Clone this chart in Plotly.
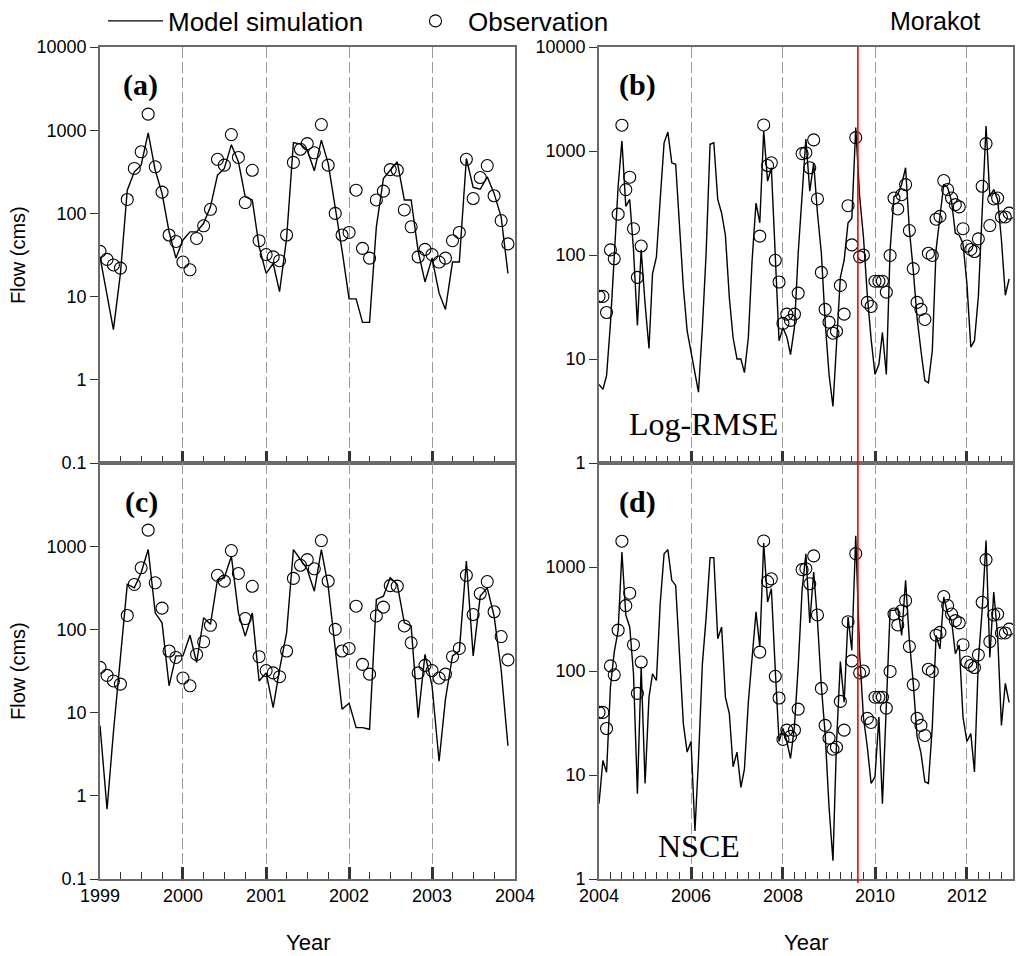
import pandas as pd
import plotly.graph_objs as go

# monthly flow (cms)
months_left = pd.date_range("1999-01-01", periods=60, freq="MS")
months_right = pd.date_range("2004-01-01", periods=108, freq="MS")

obs_left = [35, 28, 24, 22, 147, 347, 550, 1560, 363, 180, 55, 46,
            26, 21, 50, 71, 112, 447, 380, 887, 470, 135, 330, 47,
            32, 30, 27, 55, 410, 590, 690, 535, 1170, 380, 100, 55,
            59, 190, 38, 29, 145, 185, 336, 331, 110, 69, 30, 37,
            32, 26, 29, 47, 59, 447, 151, 270, 376, 163, 82, 43]

sim_a = [30, 11, 4, 19, 190, 316, 380, 930, 330, 174, 60, 29,
         48, 60, 60, 76, 120, 288, 347, 670, 417, 158, 145, 40,
         19, 25, 11.5, 50, 708, 680, 575, 325, 760, 400, 120, 36,
         9.4, 9.4, 4.9, 4.9, 69, 263, 330, 417, 145, 145, 35, 15,
         29, 11, 7, 26, 26, 457, 205, 195, 275, 174, 91, 19]

sim_c = [7, 0.69, 5.8, 44, 347, 316, 479, 912, 158, 120, 21, 48,
         48, 85, 40, 138, 115, 398, 417, 759, 158, 83, 158, 24,
         30, 11.5, 33, 91, 912, 692, 525, 288, 912, 331, 58, 11,
         13, 6.6, 6.6, 6.3, 229, 251, 417, 347, 120, 110, 8.7, 50,
         21, 2.6, 14.5, 48, 55, 661, 48, 251, 316, 145, 33, 4]

obs_right = ([40, 40, 28, 112, 92, 247, 1770, 425, 560, 179, 61, 122]
             + [None] * 30
             + [152, 1780, 725, 770, 89, 55]
             + [22, 27, 23.5, 27, 43, 943, 963, 690, 1278, 346, 68, 30,
                22.6, 17.7, 18.5, 51, 27, 298, 125, 1345, 96, 100, 35, 32,
                56, 56, 56, 44, 99, 353, 277, 380, 475, 172, 74, 35,
                30, 24, 104, 99, 221, 235, 520, 426, 353, 305, 290, 179,
                122, 113, 108, 143, 458, 1178, 192, 346, 353, 232, 232, 253])

sim_b = [5.7, 5.1, 6.9, 22, 96, 458, 1250, 293, 342, 112, 21, 112,
         34, 12.6, 66, 96, 342, 1200, 1520, 770, 745, 218, 49, 18.6,
         12, 7.7, 4.8, 20, 105, 1160, 1200, 342, 252, 155, 39, 16,
         10, 10, 7.4, 16, 89, 316, 204, 1560, 513, 690, 89, 15,
         20, 16.3, 11, 20, 104, 340, 1300, 410, 770, 252, 104, 23,
         7.1, 3.5, 15, 61, 89, 204, 225, 1680, 366, 150, 41, 15.6,
         7.1, 8.9, 18, 7.1, 112, 366, 380, 479, 690, 174, 71, 25,
         12, 6.2, 5.9, 12, 112, 225, 479, 445, 330, 162, 155, 129,
         53, 13, 15, 40, 218, 1740, 366, 426, 340, 141, 41, 59]

sim_d = [5.3, 13.8, 10.6, 71, 152, 245, 1390, 345, 265, 94, 6.6, 110,
         8.3, 56, 94, 81, 443, 1340, 1470, 745, 665, 126, 31, 16.6,
         21, 2.9, 14, 117, 330, 1230, 1230, 204, 265, 56, 39, 12,
         16.6, 7.6, 11.4, 50, 147, 370, 170, 1700, 460, 620, 102, 21,
         28, 21, 14.4, 29, 109, 600, 1340, 290, 895, 306, 71, 25,
         4.9, 1.5, 20, 123, 50, 330, 158, 2000, 147, 36, 18.6, 8.3,
         9.6, 36, 5.3, 45, 383, 383, 400, 220, 745, 197, 76, 23.5,
         16.3, 8.6, 8.3, 29, 220, 163, 515, 355, 306, 147, 178, 36,
         21, 25, 10.7, 127, 383, 1800, 135, 575, 220, 30, 76, 50]

morakot_date = "2009-08-18"

# the page has an 8px body margin, so the figure is drawn from (8, 8)
OFF = 8
W, H = 1024 - OFF, 956 - OFF


def px(x):
    return (x - OFF) / W


def py(y):
    return 1 - (y - OFF) / H


sans = "Liberation Sans, Arial, sans-serif"
serif = "Liberation Serif, Times New Roman, serif"
frame_col = "#6a6a6a"
tick_col = "#333333"


def line_trace(x, y, xa, ya, show):
    return go.Scatter(x=x, y=y, mode="lines", xaxis=xa, yaxis=ya,
                      line=dict(color="black", width=1.4),
                      name="Model simulation", showlegend=show)


def obs_trace(x, y, xa, ya, show):
    return go.Scatter(x=x, y=y, mode="markers", xaxis=xa, yaxis=ya,
                      marker=dict(symbol="circle-open", size=12,
                                  color="black", line=dict(width=1.1)),
                      name="Observation", showlegend=show)


data = [
    line_trace(months_left, sim_a, "x", "y", True),
    obs_trace(months_left, obs_left, "x", "y", True),
    line_trace(months_right, sim_b, "x2", "y2", False),
    obs_trace(months_right, obs_right, "x2", "y2", False),
    line_trace(months_left, sim_c, "x3", "y3", False),
    obs_trace(months_left, obs_left, "x3", "y3", False),
    line_trace(months_right, sim_d, "x4", "y4", False),
    obs_trace(months_right, obs_right, "x4", "y4", False),
]

left_dom = [px(100), px(515)]
right_dom = [px(599), px(1013)]
top_dom = [py(463), py(47)]
bot_dom = [py(879), py(463)]


def xaxis(dom, anchor, rng, tick0, dtick, labels):
    return dict(domain=dom, anchor=anchor, type="date", range=rng,
                tick0=tick0, dtick=dtick, tickformat="%Y",
                showticklabels=labels, ticks="inside", ticklen=12,
                tickwidth=2.5, tickcolor=tick_col, automargin=False,
                minor=dict(dtick="M3", ticks="inside", ticklen=7,
                           tickwidth=1, tickcolor=tick_col, showgrid=False),
                showgrid=True, gridcolor="#9a9a9a", griddash="11px,4px",
                gridwidth=1.3, showline=True, linecolor=frame_col,
                linewidth=1.6, mirror=True, zeroline=False,
                tickfont=dict(family=sans, size=18, color="black"))


def yaxis(dom, anchor, vals, rng):
    return dict(domain=dom, anchor=anchor, type="log", range=rng,
                tickvals=vals, ticktext=[str(v) for v in vals],
                ticks="outside", ticklen=8, tickwidth=1.2,
                tickcolor=tick_col, showgrid=False, zeroline=False,
                showline=True, linecolor=frame_col, linewidth=1.6,
                mirror=True, automargin=False,
                tickfont=dict(family=sans, size=18, color="black"))


left_range = ["1999-01-01", "2004-01-01"]
right_range = ["2004-01-01", "2013-01-01"]

layout = go.Layout(
    width=W, height=H,
    margin=dict(l=0, r=0, t=0, b=0, autoexpand=False),
    paper_bgcolor="white", plot_bgcolor="white",
    xaxis=xaxis(left_dom, "y", left_range, "1999-01-01", "M12", False),
    yaxis=yaxis(top_dom, "x", [0.1, 1, 10, 100, 1000, 10000], [-1, 4]),
    xaxis2=xaxis(right_dom, "y2", right_range, "2004-01-01", "M24", False),
    yaxis2=yaxis(top_dom, "x2", [1, 10, 100, 1000, 10000], [0, 4]),
    xaxis3=xaxis(left_dom, "y3", left_range, "1999-01-01", "M12", True),
    yaxis3=yaxis(bot_dom, "x3", [0.1, 1, 10, 100, 1000], [-1, 4]),
    xaxis4=xaxis(right_dom, "y4", right_range, "2004-01-01", "M24", True),
    yaxis4=yaxis(bot_dom, "x4", [1, 10, 100, 1000], [0, 4]),
    showlegend=True,
    legend=dict(orientation="h", x=px(103), y=py(21), xanchor="left",
                yanchor="middle", bgcolor="rgba(0,0,0,0)",
                font=dict(family=sans, size=26, color="black"),
                itemwidth=55, entrywidth=230, entrywidthmode="pixels"),
    shapes=[dict(type="line", xref="x2", yref="paper",
                 x0=morakot_date, x1=morakot_date,
                 y0=py(883), y1=py(47),
                 line=dict(color="red", width=1.6))],
)

annotations = [
    dict(text="Morakot", x=px(935), y=py(21), font=dict(family=sans, size=25)),
    dict(text="<b>(a)</b>", x=px(140), y=py(85), font=dict(family=serif, size=30)),
    dict(text="<b>(b)</b>", x=px(637), y=py(85), font=dict(family=serif, size=30)),
    dict(text="<b>(c)</b>", x=px(141), y=py(502), font=dict(family=serif, size=30)),
    dict(text="<b>(d)</b>", x=px(637), y=py(502), font=dict(family=serif, size=30)),
    dict(text="Log-RMSE", x=px(703), y=py(424), font=dict(family=serif, size=32)),
    dict(text="NSCE", x=px(699), y=py(846), font=dict(family=serif, size=32)),
    dict(text="Flow (cms)", x=px(18), y=py(255), textangle=-90,
         font=dict(family=sans, size=20)),
    dict(text="Flow (cms)", x=px(18), y=py(671), textangle=-90,
         font=dict(family=sans, size=20)),
    dict(text="Year", x=px(308), y=py(942), font=dict(family=sans, size=22)),
    dict(text="Year", x=px(806), y=py(942), font=dict(family=sans, size=22)),
]
for a in annotations:
    a.update(xref="paper", yref="paper", showarrow=False,
             xanchor="center", yanchor="middle")
    a["font"]["color"] = "black"
layout.annotations = annotations

fig = go.Figure(data=data, layout=layout)
fig.write_html("out.html")
